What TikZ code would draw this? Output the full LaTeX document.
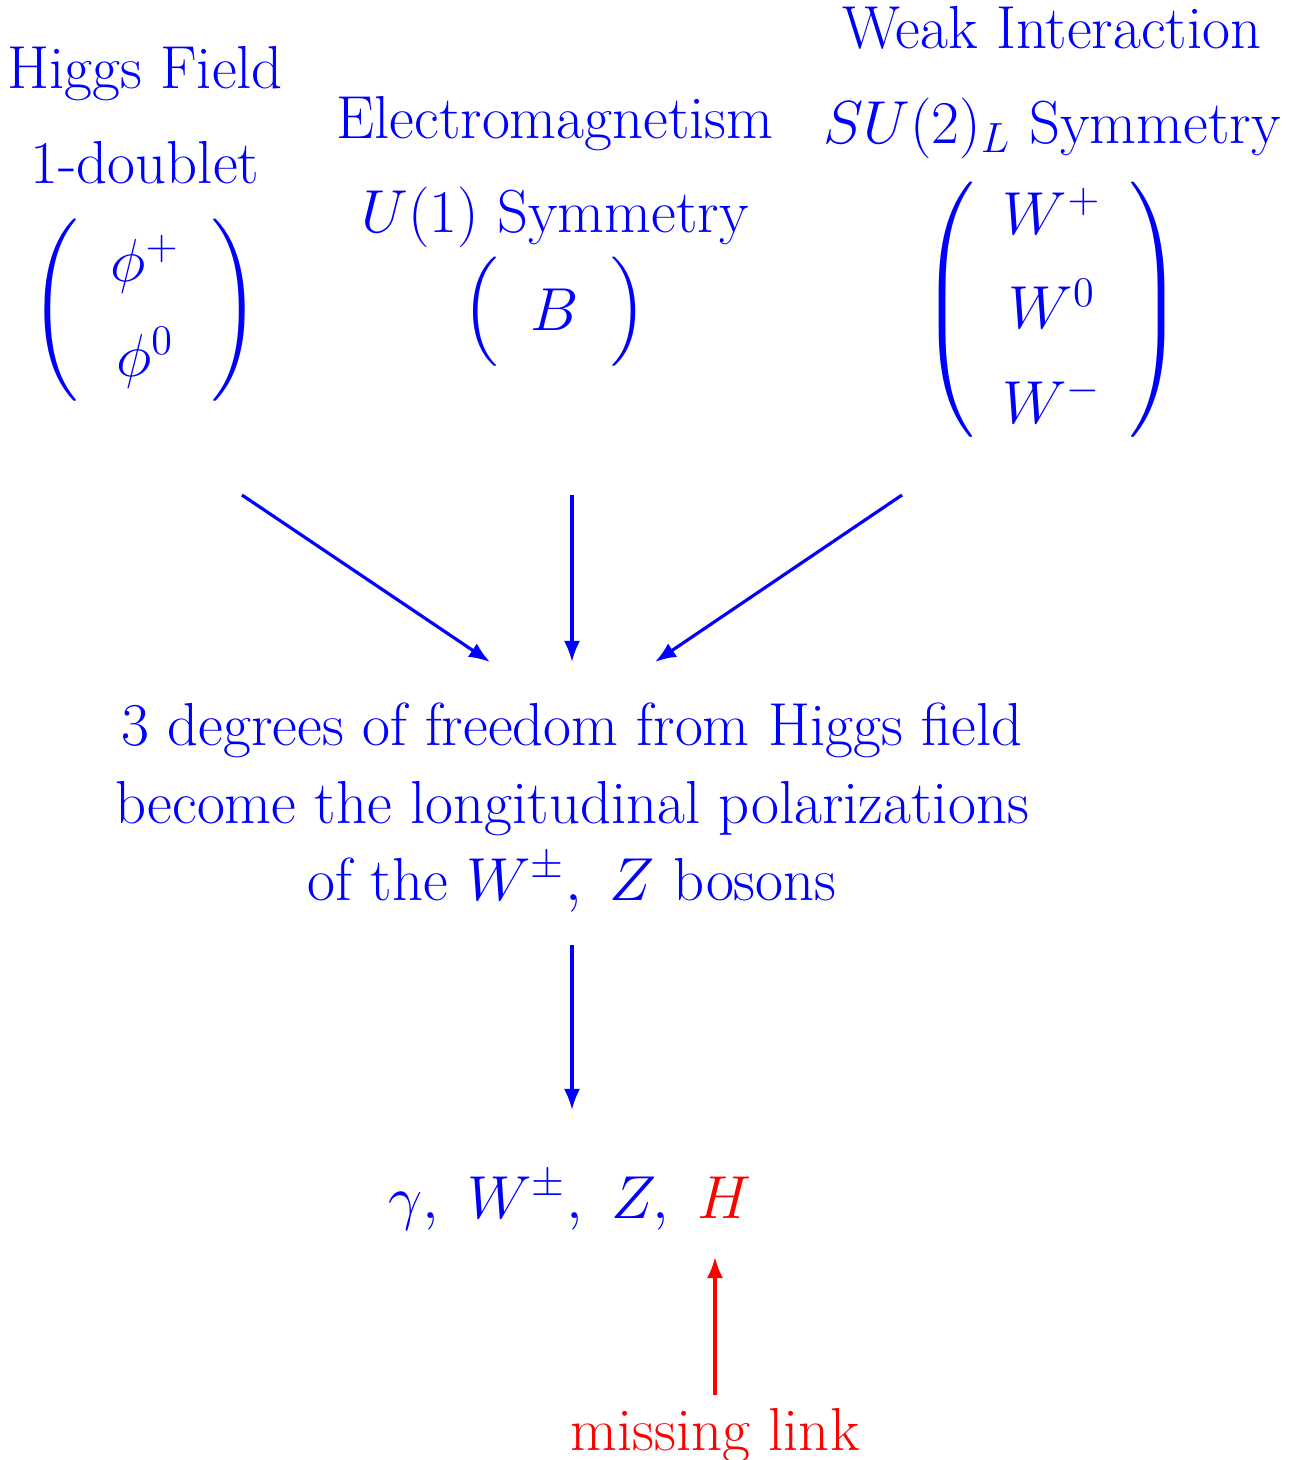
\documentclass[tikz,border=0pt]{standalone}
\usepackage{amsmath}
\usetikzlibrary{arrows.meta}

\begin{document}
\begin{tikzpicture}[
  lbl/.style={text=blue, font=\LARGE, anchor=base, inner sep=0pt},
  mtx/.style={text=blue, font=\LARGE, inner sep=0pt},
  arr/.style={-{Latex[length=6pt,width=4.6pt]}, line width=0.9pt},
]
\useasboundingbox (0,0) rectangle (12.95,-14.6);

% Higgs field column
\node[lbl] (higgs) at (1.45,-0.88) {Higgs Field};
\node[lbl] (doublet) at (1.45,-1.83) {1-doublet};
\node[mtx] (phi) at (1.45,-3.10) {$\renewcommand{\arraystretch}{1.22}\left(\begin{array}{@{\hspace{9pt}}c@{\hspace{9pt}}}\phi^+\\ \phi^0\end{array}\right)$};

% electromagnetism column
\node[lbl] (em) at (5.55,-1.38) {Electromagnetism};
\node[lbl] (uone) at (5.55,-2.32) {$U(1)$ Symmetry};
\node[mtx] (bfield) at (5.55,-3.12) {$\renewcommand{\arraystretch}{1.22}\left(\begin{array}{@{\hspace{9pt}}c@{\hspace{9pt}}}B\end{array}\right)$};

% weak interaction column
\node[lbl] (weak) at (10.52,-0.48) {Weak Interaction};
\node[lbl] (sutwo) at (10.52,-1.43) {$SU(2)_L$ Symmetry};
\node[mtx] (wfield) at (10.52,-3.10) {$\delimiterfactor=880\delimitershortfall=8pt\renewcommand{\arraystretch}{1.22}\left(\begin{array}{@{\hspace{8pt}}c@{\hspace{8pt}}}W^+\\ W^0\\ W^-\end{array}\right)$};

% middle text
\node[lbl] (dof1) at (5.72,-7.45) {3 degrees of freedom from Higgs field};
\node[lbl] (dof2) at (5.72,-8.23) {become the longitudinal polarizations};
\node[lbl] (dof3) at (5.72,-9.00) {of the $W^\pm,\ Z$ bosons};

% resulting bosons
\node[lbl] (bosons) at (5.70,-12.18) {$\gamma,\ W^\pm,\ Z,\ \textcolor{red}{H}$};
\node[lbl, text=red] (missing) at (7.15,-14.50) {missing link};

% arrow ends
\coordinate (a1) at (2.42,-4.95);
\coordinate (a2) at (5.72,-4.95);
\coordinate (a3) at (9.02,-4.95);
\coordinate (b1) at (4.90,-6.62);
\coordinate (b2) at (5.72,-6.62);
\coordinate (b3) at (6.55,-6.62);
\coordinate (c1) at (5.72,-9.45);
\coordinate (c2) at (5.72,-11.10);
\coordinate (d1) at (7.15,-13.95);
\coordinate (d2) at (7.15,-12.57);

\draw[arr, blue] (a1) -- (b1);
\draw[arr, blue] (a2) -- (b2);
\draw[arr, blue] (a3) -- (b3);
\draw[arr, blue] (c1) -- (c2);
\draw[arr, red] (d1) -- (d2);

\end{tikzpicture}
\end{document}
